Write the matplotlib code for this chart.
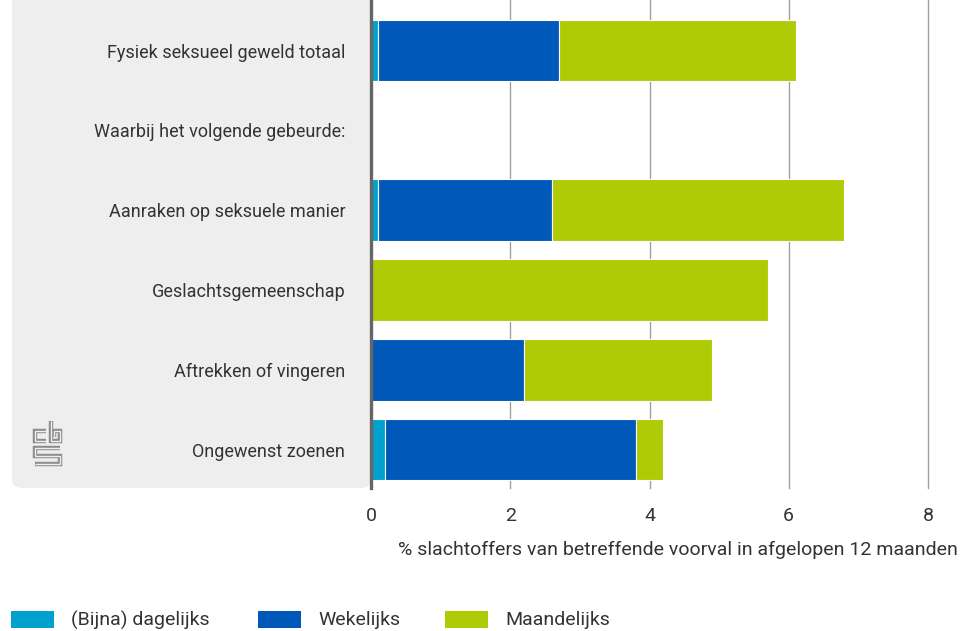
import numpy as np
import matplotlib
matplotlib.use("Agg")
import matplotlib.pyplot as plt
from matplotlib.patches import FancyBboxPatch, Rectangle
import matplotlib.patheffects as pe

plt.rcParams['font.family'] = ['Roboto', 'DejaVu Sans']

# categories, top to bottom (second row is a header without bars)
categories = ["Fysiek seksueel geweld totaal",
              "Waarbij het volgende gebeurde:",
              "Aanraken op seksuele manier",
              "Geslachtsgemeenschap",
              "Aftrekken of vingeren",
              "Ongewenst zoenen"]
series = ["(Bijna) dagelijks", "Wekelijks", "Maandelijks"]
dagelijks   = [0.1, 0, 0.1, 0.0, 0.0, 0.2]
wekelijks   = [2.6, 0, 2.5, 0.0, 2.2, 3.6]
maandelijks = [3.4, 0, 4.2, 5.7, 2.7, 0.4]
colors = ["#00a1cd", "#0058b8", "#afcb05"]

W, H = 966, 631
FS = 14
fig = plt.figure(figsize=(W / 100, H / 100), dpi=100)

# grey panel behind the category labels
panel = FancyBboxPatch((12 / W, 1 - 488 / H), (371 - 12) / W, 520 / H,
                       boxstyle="round,pad=0,rounding_size=0.012",
                       transform=fig.transFigure, facecolor="#eeeeee",
                       edgecolor="none", zorder=-1)
fig.patches.append(panel)

ax = fig.add_axes([371 / W, 1 - 488 / H, 557 / W, 488 / H])
ax.set_facecolor("none")

y = np.arange(len(categories))
left = np.zeros(len(categories))
for vals, col, name in zip([dagelijks, wekelijks, maandelijks], colors, series):
    vals = np.array(vals)
    ax.barh(y, vals, left=left, height=0.77, color=col, edgecolor="white",
            linewidth=0.8, label=name, zorder=3)
    left += vals

ax.set_ylim(5.48, -0.633)
ax.set_xlim(0, 8)
ax.set_xticks([0, 2, 4, 6, 8])
ax.set_xticklabels(["0", "2", "4", "6", "8"])
ax.set_yticks(y)
ax.set_yticklabels(categories)
ax.tick_params(axis="both", length=0, labelsize=FS, labelcolor="#333333")
ax.tick_params(axis="y", labelsize=13, pad=18.5)
ax.tick_params(axis="x", pad=14)
ax.grid(axis="x", color="#a0a0a0", linewidth=1, zorder=1)
for gl in ax.get_xgridlines():
    gl.set_clip_on(False)
for s in ["top", "right", "bottom"]:
    ax.spines[s].set_visible(False)
ax.spines["left"].set_color("#666666")
ax.spines["left"].set_linewidth(2.4)
ax.spines["left"].set_zorder(4)

fig.text(958 / W, 1 - 550 / H, "% slachtoffers van betreffende voorval in afgelopen 12 maanden",
         ha="right", va="center", fontsize=FS, color="#333333")

# cbs logo drawn as outlined strokes
logo = [[(46, 431), (35, 431), (35, 441), (46, 441)],
        [(51, 421), (51, 441), (60, 441), (60, 431), (54, 431), (54, 437)],
        [(60, 448), (35, 448), (35, 456), (60, 456), (60, 464), (35, 464)]]
for path in logo:
    xs = [p[0] / W for p in path]
    ys = [1 - p[1] / H for p in path]
    fig.add_artist(plt.Line2D(xs, ys, color="#eeeeee", linewidth=1.0,
                              solid_capstyle="butt", solid_joinstyle="miter",
                              path_effects=[pe.Stroke(linewidth=3.2, foreground="#8c8c8c",
                                                      capstyle="butt", joinstyle="miter"),
                                            pe.Normal()]))

# legend row
leg_x = [11, 258, 445]
for xp, col, name in zip(leg_x, colors, series):
    fig.patches.append(Rectangle((xp / W, 1 - 628 / H), 43 / W, 17 / H,
                                 transform=fig.transFigure, facecolor=col, edgecolor="none"))
    fig.text((xp + 60) / W, 1 - 620 / H, name, ha="left", va="center",
             fontsize=FS, color="#333333")

fig.savefig("out.png", dpi=100)
